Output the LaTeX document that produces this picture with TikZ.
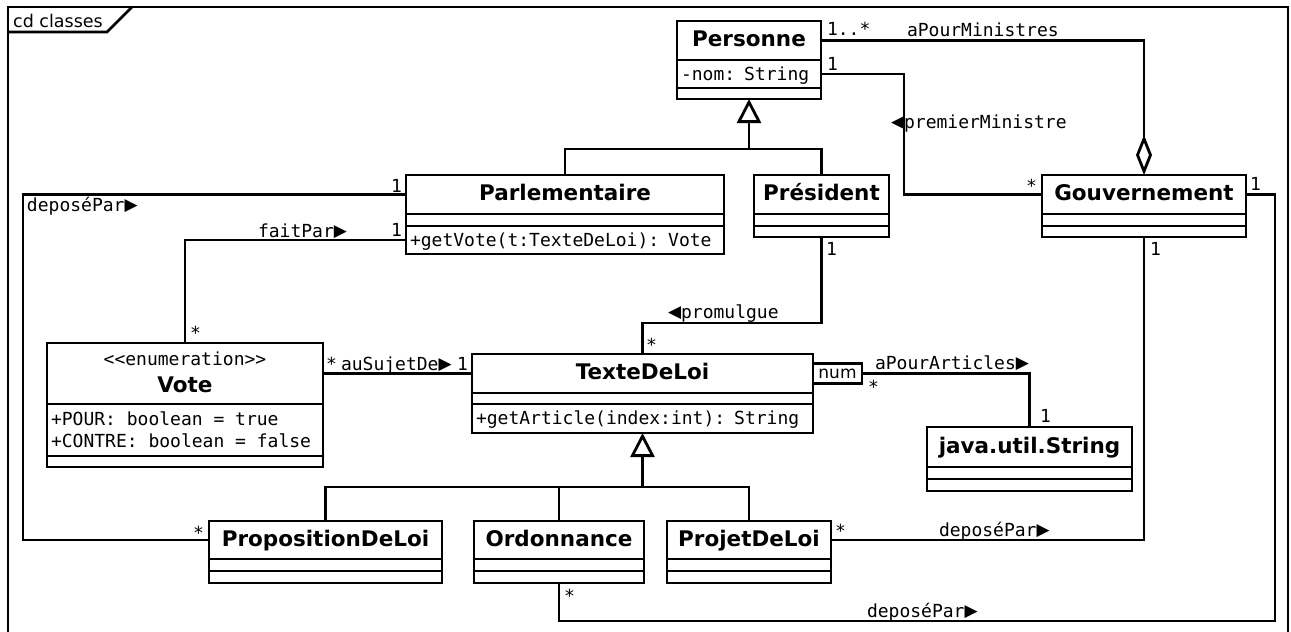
\documentclass[tikz,border=0pt]{standalone}
\usepackage{fontspec}
\setmainfont{DejaVu Sans}
\setmonofont{DejaVu Sans Mono}
\newfontfamily\symf{DejaVu Sans}
\usetikzlibrary{arrows.meta}
\newcommand{\rtri}{\raisebox{0.8pt}{\symf\fontsize{17}{17}\selectfont ▶}}
\newcommand{\ltri}{\raisebox{0.8pt}{\symf\fontsize{17}{17}\selectfont ◀}}
\begin{document}
\begin{tikzpicture}[x=1pt,y=-1pt,
 box/.style={draw, line width=2.8pt, rectangle, inner sep=0pt, outer sep=0pt, anchor=north west},
 cname/.style={box, font=\fontsize{21.5}{24}\selectfont\bfseries, text height=16pt, text depth=3.5pt},
 comp/.style={box, font=\fontsize{18}{22}\selectfont\ttfamily, text height=14pt, text depth=2pt, align=left, inner xsep=4pt},
 lbl/.style={font=\fontsize{18}{22}\selectfont\ttfamily, inner sep=0pt, outer sep=0pt, anchor=base west},
 lble/.style={lbl, anchor=base east},
 assoc/.style={line width=2.8pt},
 gen/.style={assoc, -{Triangle[open, length=24pt, width=24pt]}},
 agg/.style={assoc, -{Diamond[open, length=40pt, width=16pt]}},
]
\useasboundingbox (0,0) rectangle (1291,632);
% frame
\draw[assoc] (8,640) -- (8,7) -- (1288,7) -- (1288,640);
\draw[assoc] (8,32) -- (107,32) -- (132,7);
\node[font=\fontsize{17.5}{20}\selectfont, inner sep=0pt, anchor=base west] (frm) at (13,27.5) {cd classes};

% Personne
\node[cname, minimum width=144pt, minimum height=39pt] (Pers) at (677,21) {Personne};
\node[comp, minimum width=144pt, minimum height=28pt, text width=136pt] (Pers-a) at (Pers.south west) {-nom: String};
\node[box, minimum width=144pt, minimum height=11pt] (Pers-m) at (Pers-a.south west) {};
% Parlementaire
\node[cname, minimum width=318pt, minimum height=39pt] (Parl) at (406,175) {Parlementaire};
\node[box, minimum width=318pt, minimum height=12pt] (Parl-a) at (Parl.south west) {};
\node[comp, minimum width=318pt, minimum height=28pt, text width=310pt] (Parl-m) at (Parl-a.south west) {+getVote(t:TexteDeLoi): Vote};
% President
\node[cname, minimum width=135pt, minimum height=39pt] (Pres) at (754,175) {Président};
\node[box, minimum width=135pt, minimum height=12pt] (Pres-a) at (Pres.south west) {};
\node[box, minimum width=135pt, minimum height=11pt] (Pres-m) at (Pres-a.south west) {};
% Gouvernement
\node[cname, minimum width=204pt, minimum height=39pt] (Gouv) at (1042,175) {Gouvernement};
\node[box, minimum width=204pt, minimum height=12pt] (Gouv-a) at (Gouv.south west) {};
\node[box, minimum width=204pt, minimum height=11pt] (Gouv-m) at (Gouv-a.south west) {};
% Vote
\node[cname, minimum width=276pt, minimum height=61pt] (Vote) at (47,343) {};
\node[box, minimum width=276pt, minimum height=52pt] (Vote-a) at (Vote.south west) {};
\node[box, minimum width=276pt, minimum height=11pt] (Vote-m) at (Vote-a.south west) {};
\node[lbl, anchor=base] (Vote-st) at (185,365) {<<enumeration>>};
\node[lbl, anchor=base, font=\fontsize{21.5}{24}\selectfont\bfseries] (Vote-nm) at (185,392) {Vote};
\node[lbl] (Vote-a1) at (51,425) {+POUR: boolean = true};
\node[lbl] (Vote-a2) at (51,447) {+CONTRE: boolean = false};
% TexteDeLoi
\node[cname, minimum width=341pt, minimum height=39pt] (Texte) at (472,354) {TexteDeLoi};
\node[box, minimum width=341pt, minimum height=11pt] (Texte-a) at (Texte.south west) {};
\node[comp, minimum width=341pt, minimum height=29pt, text width=333pt] (Texte-m) at (Texte-a.south west) {+getArticle(index:int): String};
\node[box, anchor=west, minimum width=49pt, minimum height=20pt, font=\fontsize{17}{20}\selectfont] (num) at (Texte.east) {num};
% java.util.String
\node[cname, minimum width=205pt, minimum height=40pt] (JStr) at (927,427) {java.util.String};
\node[box, minimum width=205pt, minimum height=12pt] (JStr-a) at (JStr.south west) {};
\node[box, minimum width=205pt, minimum height=12pt] (JStr-m) at (JStr-a.south west) {};
% PropositionDeLoi
\node[cname, minimum width=233pt, minimum height=38pt] (Prop) at (209,521) {PropositionDeLoi};
\node[box, minimum width=233pt, minimum height=12pt] (Prop-a) at (Prop.south west) {};
\node[box, minimum width=233pt, minimum height=12pt] (Prop-m) at (Prop-a.south west) {};
% Ordonnance
\node[cname, minimum width=170pt, minimum height=38pt] (Ord) at (474,521) {Ordonnance};
\node[box, minimum width=170pt, minimum height=12pt] (Ord-a) at (Ord.south west) {};
\node[box, minimum width=170pt, minimum height=12pt] (Ord-m) at (Ord-a.south west) {};
% ProjetDeLoi
\node[cname, minimum width=164pt, minimum height=38pt] (Proj) at (667,521) {ProjetDeLoi};
\node[box, minimum width=164pt, minimum height=12pt] (Proj-a) at (Proj.south west) {};
\node[box, minimum width=164pt, minimum height=12pt] (Proj-m) at (Proj-a.south west) {};

% junction coordinates
\coordinate (gP) at (749,149);
\coordinate (gT) at (642.5,487);
\coordinate (pm) at (904,0);
\coordinate (gr) at (1275,621);
\coordinate (dl) at (23,0);
\coordinate (pr) at (0,323);

% generalizations
\draw[gen] (Parl.north) |- (gP) -- (Pers-m.south);
\draw[assoc] (Pres.north) |- (gP);
\draw[gen] (Prop.north) |- (gT) -- (Texte-m.south);
\draw[assoc] (Proj.north) |- (gT);
\draw[assoc] (Ord.north) -- (Ord.north |- gT);

% associations
\draw[agg] (Pers.east) -| (Gouv.north);
\draw[assoc] (Pers-a.east) -| (pm |- Gouv.west) -- (Gouv.west);
\draw[assoc] (Gouv.east) -| (gr) -| (Ord-m.south);
\draw[assoc] (Gouv-m.south) |- (Proj.east);
\draw[assoc] (Parl.west) -| (dl |- Prop.west) -- (Prop.west);
\draw[assoc] (Parl-m.west) -| (Vote.north);
\draw[assoc] (Vote.east) -- (Texte.west);
\draw[assoc] (Pres-m.south) |- (Texte.north |- pr) -- (Texte.north);
\draw[assoc] (num.east) -| (JStr.north);

% labels
\node[lbl] (l1) at (827,35) {1..*};
\node[lbl] (l2) at (907,36) {aPourMinistres};
\node[lbl] (l3) at (827,70) {1};
\node[lbl] (l4) at (891,128) {\ltri premierMinistre};
\node[lble] (l5) at (1037,192) {*};
\node[lbl] (l6) at (1250,190) {1};
\node[lbl] (l7) at (1150,255) {1};
\node[lble] (l8) at (402,192) {1};
\node[lbl] (l9) at (27,211) {deposéPar\rtri};
\node[lbl] (l10) at (258,237) {faitPar\rtri};
\node[lble] (l11) at (402,236) {1};
\node[lbl] (l12) at (190,339) {*};
\node[lbl] (l13) at (326,370) {*};
\node[lbl] (l14) at (341,370) {auSujetDe\rtri};
\node[lble] (l15) at (468,370) {1};
\node[lbl] (l16) at (826,255) {1};
\node[lbl] (l17) at (668,318) {\ltri promulgue};
\node[lbl] (l18) at (646,351) {*};
\node[lbl] (l19) at (875,369) {aPourArticles\rtri};
\node[lbl] (l20) at (868,393) {*};
\node[lbl] (l21) at (1040,422) {1};
\node[lble] (l22) at (204,539) {*};
\node[lbl] (l23) at (835,537) {*};
\node[lbl] (l24) at (939,536) {deposéPar\rtri};
\node[lbl] (l25) at (564,602) {*};
\node[lbl] (l26) at (867,617) {deposéPar\rtri};
\end{tikzpicture}
\end{document}
